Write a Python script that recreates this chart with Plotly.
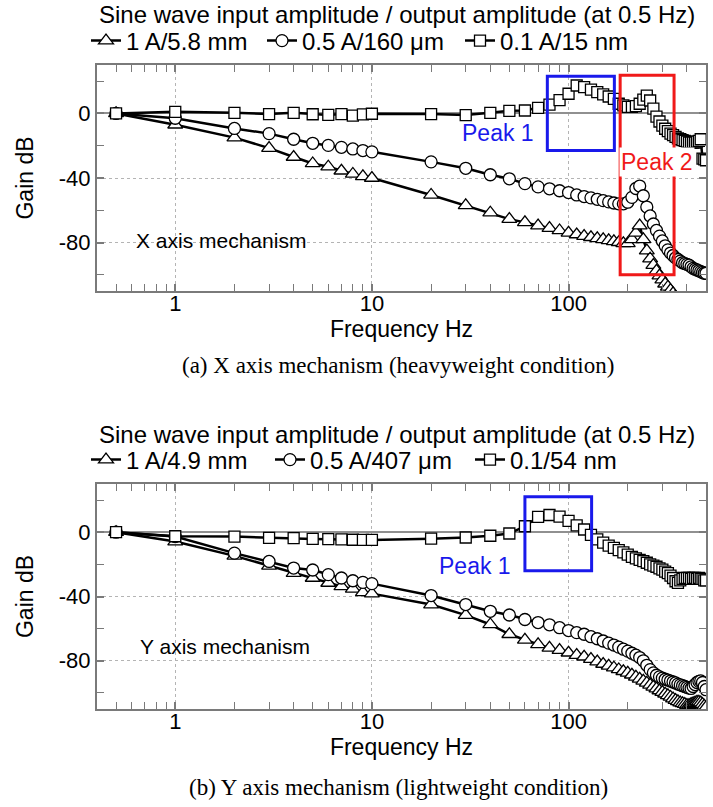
import math
import plotly.graph_objects as go

# ---------------- data ----------------
freq = [0.5, 1, 2, 3, 4, 5, 6, 7, 8, 9, 10,
        20, 30, 40, 50, 60, 70, 80, 90, 100,
        110, 120, 130, 140, 150, 160, 170, 180, 190, 200,
        210, 220, 230, 240, 250, 260, 270, 280, 290, 300,
        310, 320, 330, 340, 350, 360, 370, 380, 390, 400,
        410, 420, 430, 440, 450, 460, 470, 480, 490, 500]

# (a) X axis mechanism
x_gain_1A = [0, -7, -15, -21.5, -27, -31, -33, -35.5, -37.5, -39, -40,
             -50.5, -57, -61.5, -65.5, -67.5, -69.5, -71, -72.5, -74,
             -75, -76, -76.7, -77.4, -78, -78.6, -79.2, -79.8, -80.5, -80.5,
             -78, -74, -69.5, -78, -85, -90, -94, -97.5, -100.5, -103,
             -105.5, -107.5, -109.5, -111.5, -113.5, -115.5, -117.5, -119.5, -121.5, -123.5,
             -125.5, -127.5, -129.5, -131.5, -133, -134.5, -136, -137.5, -139, -140]
x_gain_05A = [0, -3, -9.3, -12.5, -16, -18.5, -19.8, -21, -22, -23, -23.8,
              -30, -34, -38, -40.5, -43.5, -45.5, -46.7, -47.9, -49,
              -50.5, -51.5, -52.3, -53.2, -54, -54.8, -55.5, -56, -56, -55,
              -52, -46.5, -45, -51, -58, -63.5, -68.5, -72.5, -76, -79,
              -82, -84.5, -86.5, -88, -89.5, -90.5, -91.5, -92.5, -93, -93.5,
              -94, -95, -96, -96.5, -97, -97.5, -98, -98.5, -99, -99]
x_gain_01A = [0, 1, 0.4, -0.4, 0.4, -0.5, -0.9, -0.4, -1.3, -0.6, -0.2,
              -0.4, -1, 0.4, 1.6, 1.8, 3.5, 5.5, 8.2, 12.2,
              17.3, 16.3, 14.8, 13.2, 11.8, 10.5, 9, 6, 5, 4,
              4, 4.5, 6, 8.5, 11, 8, 3, -2, -5, -7.5,
              -9.5, -11, -12.5, -13.5, -14.5, -15.5, -16, -16.5, -17, -17.5,
              -18, -18, -18, -18, -17.5, -17, -16, -28, -28.5, -29]

# (b) Y axis mechanism
y_gain_1A = [0, -5.8, -14.7, -20.9, -25.4, -28.5, -31.6, -33.7, -35.3, -37.4, -38.2,
             -45, -51.6, -57.4, -63.5, -67, -69.8, -72, -73.4, -75,
             -76.5, -77.5, -79, -80.5, -82, -83.2, -84.3, -85.4, -86.5, -87.5,
             -88.7, -90, -91.2, -92.5, -93.7, -95, -96.2, -97.3, -98.5, -99.5,
             -100.5, -101.5, -102.5, -103.5, -104.5, -105.2, -106, -106.5, -107, -107.5,
             -107.5, -107, -106.5, -106, -105.5, -105.5, -106, -107, -108, -109]
y_gain_05A = [0, -2.7, -13, -18.2, -22.3, -23.5, -26.4, -28.5, -30.2, -31.2, -32,
              -39.4, -45, -49.2, -51.5, -54.3, -56.2, -57.6, -59.4, -61.2,
              -62.5, -63.5, -65, -66.3, -67.7, -69, -70.2, -71.5, -72.8, -74,
              -75.3, -76.5, -78, -80, -82.8, -85.5, -87.5, -89, -90, -90.8,
              -91.5, -92, -92.6, -93.2, -93.8, -94.5, -95, -95.5, -96, -96.5,
              -97, -97.2, -96, -94.8, -93.5, -92.8, -92.5, -93.5, -96, -98]
y_gain_01A = [0, -2.5, -2.7, -3.5, -3.7, -4.2, -4.3, -4.5, -4.7, -4.8, -4.8,
              -4, -3.3, -2.2, -0.8, 3.7, 9.5, 10.7, 9.7, 7,
              4.2, 1.7, -1.7, -4.5, -6.5, -8.3, -9.8, -11.2, -12.6, -14,
              -15.3, -16.3, -17.2, -18, -19, -20, -20.8, -21.5, -22.5, -23.3,
              -24.5, -25.5, -27, -28.5, -30.5, -31.5, -30, -29, -28.5, -28.5,
              -28.5, -29, -28.5, -28.5, -29, -28.5, -29, -29, -30, -30]

legend_a = ["1 A/5.8 mm", "0.5 A/160 μm", "0.1 A/15 nm"]
legend_b = ["1 A/4.9 mm", "0.5 A/407 μm", "0.1/54 nm"]

x_tickvals = [1, 10, 100]
x_ticktext = ["1", "10", "100"]
x_minor = [0.5, 0.6, 0.7, 0.8, 0.9, 2, 3, 4, 5, 6, 7, 8, 9,
           20, 30, 40, 50, 60, 70, 80, 90, 200, 300, 400]
y_tickvals = [-80, -40, 0]
y_ticktext = ["-80", "-40", "0"]
y_minor = [-100, -60, -20, 20]
x_range = [0.4, 500]
y_range = [-110, 30]

# boxes (data coordinates)
box_a_peak1 = dict(f=[78, 171], g=[-23, 23])
box_a_peak2 = dict(f=[183, 344], g=[-100, 23.7])
box_b_peak1 = dict(f=[60, 131], g=[-24, 22])

# ---------------- figure ----------------
W, H = 713, 807
SANS = "Liberation Sans, Arial, sans-serif"
SERIF = "Liberation Serif, Times New Roman, serif"
BLUE = "rgb(25,25,235)"
RED = "rgb(240,25,25)"
GRAY = "#7a7a7a"

symbols = ["triangle-up", "circle", "square"]
sizes = [13, 12, 11]


def px_x(p):
    return p / W


def px_y(p):
    return 1 - p / H


fig = go.Figure()

series_a = [x_gain_1A, x_gain_05A, x_gain_01A]
series_b = [y_gain_1A, y_gain_05A, y_gain_01A]
legend_ids_a = ["legend", "legend2", "legend3"]
legend_ids_b = ["legend4", "legend5", "legend6"]

for i, (vals, name) in enumerate(zip(series_a, legend_a)):
    fig.add_trace(go.Scatter(
        x=freq, y=vals, name=name, mode="lines+markers", showlegend=True,
        line=dict(color="black", width=2.5),
        marker=dict(symbol=symbols[i], size=sizes[i],
                    color="white", line=dict(color="black", width=1.3)),
        xaxis="x", yaxis="y", legend=legend_ids_a[i]))

for i, (vals, name) in enumerate(zip(series_b, legend_b)):
    fig.add_trace(go.Scatter(
        x=freq, y=vals, name=name, mode="lines+markers", showlegend=True,
        line=dict(color="black", width=2.5),
        marker=dict(symbol=symbols[i], size=sizes[i],
                    color="white", line=dict(color="black", width=1.3)),
        xaxis="x2", yaxis="y2", legend=legend_ids_b[i]))

xdom = [px_x(97), px_x(706)]
ydom_a = [px_y(291), px_y(65)]
ydom_b = [px_y(709), px_y(484)]


def xaxis_cfg(dom, anchor):
    return dict(
        type="log", domain=dom, anchor=anchor, automargin=False,
        range=[math.log10(x_range[0]), math.log10(x_range[1])],
        tickmode="array", tickvals=x_tickvals, ticktext=x_ticktext,
        ticks="inside", ticklen=7, tickwidth=1.5, tickcolor=GRAY,
        showline=True, linecolor=GRAY, linewidth=2, mirror="allticks",
        showgrid=True, gridcolor="#b4b4b4", griddash="dot", gridwidth=1,
        zeroline=False, ticklabelstandoff=-8,
        minor=dict(tickmode="array", tickvals=x_minor, ticks="inside",
                   ticklen=7, tickwidth=1.2, tickcolor=GRAY, showgrid=False),
        tickfont=dict(family=SANS, size=22, color="black"),
        title=dict(text="Frequency Hz", font=dict(family=SANS, size=23, color="black"),
                   standoff=0),
    )


def yaxis_cfg(dom, anchor):
    return dict(
        domain=dom, anchor=anchor, range=y_range, automargin=False,
        tickmode="array", tickvals=y_tickvals, ticktext=y_ticktext,
        ticks="inside", ticklen=7, tickwidth=1.5, tickcolor=GRAY,
        showline=True, linecolor=GRAY, linewidth=2, mirror="allticks",
        showgrid=True, gridcolor="#b4b4b4", griddash="dot", gridwidth=1,
        zeroline=True, zerolinecolor="#909090", zerolinewidth=2,
        minor=dict(tickmode="array", tickvals=y_minor, ticks="inside",
                   ticklen=7, tickwidth=1.2, tickcolor=GRAY, showgrid=False),
        tickfont=dict(family=SANS, size=22, color="black"),
        title=dict(text="Gain dB", font=dict(family=SANS, size=23, color="black"),
                   standoff=19),
    )


def box(ref_x, ref_y, b, color):
    return dict(type="rect", xref=ref_x, yref=ref_y,
                x0=b["f"][0], x1=b["f"][1], y0=b["g"][0], y1=b["g"][1],
                line=dict(color=color, width=3), fillcolor="rgba(0,0,0,0)", layer="above")


def legend_box(xpx, ypx):
    return dict(orientation="h", xanchor="left", yanchor="middle",
                x=px_x(xpx), y=px_y(ypx), visible=True,
                font=dict(family=SANS, size=24, color="black"),
                bgcolor="rgba(0,0,0,0)", itemclick=False, itemdoubleclick=False)


legend_x_a = [86, 262, 460]
legend_x_b = [86, 270, 470]

layout_legends = {}
for lid, xp in zip(legend_ids_a, legend_x_a):
    layout_legends[lid] = legend_box(xp, 41)
for lid, xp in zip(legend_ids_b, legend_x_b):
    layout_legends[lid] = legend_box(xp, 460)

fig.update_layout(
    width=W, height=H,
    showlegend=True,
    margin=dict(l=0, r=0, t=0, b=0),
    paper_bgcolor="white", plot_bgcolor="white",
    font=dict(family=SANS, color="black"),
    xaxis=xaxis_cfg(xdom, "y"),
    yaxis=yaxis_cfg(ydom_a, "x"),
    xaxis2=xaxis_cfg(xdom, "y2"),
    yaxis2=yaxis_cfg(ydom_b, "x2"),
    shapes=[box("x", "y", box_a_peak1, BLUE),
            box("x", "y", box_a_peak2, RED),
            box("x2", "y2", box_b_peak1, BLUE)],
    annotations=[
        dict(text="Sine wave input amplitude / output amplitude (at 0.5 Hz)",
             xref="paper", yref="paper", x=px_x(397), y=px_y(15),
             xanchor="center", yanchor="middle", showarrow=False,
             font=dict(family=SANS, size=24, color="black")),
        dict(text="Sine wave input amplitude / output amplitude (at 0.5 Hz)",
             xref="paper", yref="paper", x=px_x(397), y=px_y(434),
             xanchor="center", yanchor="middle", showarrow=False,
             font=dict(family=SANS, size=24, color="black")),
        dict(text="(a) X axis mechanism (heavyweight condition)",
             xref="paper", yref="paper", x=px_x(398), y=px_y(365),
             xanchor="center", yanchor="middle", showarrow=False,
             font=dict(family=SERIF, size=23, color="black")),
        dict(text="(b) Y axis mechanism (lightweight condition)",
             xref="paper", yref="paper", x=px_x(398), y=px_y(787),
             xanchor="center", yanchor="middle", showarrow=False,
             font=dict(family=SERIF, size=23, color="black")),
        dict(text="X axis mechanism", xref="x", yref="y",
             x=math.log10(0.62), y=-79, xanchor="left", yanchor="middle",
             showarrow=False, font=dict(family=SANS, size=21, color="black")),
        dict(text="Y axis mechanism", xref="x2", yref="y2",
             x=math.log10(0.65), y=-71, xanchor="left", yanchor="middle",
             showarrow=False, font=dict(family=SANS, size=21, color="black")),
        dict(text="Peak 1", xref="x", yref="y",
             x=math.log10(43.6), y=-12, xanchor="center", yanchor="middle",
             showarrow=False, font=dict(family=SANS, size=23, color=BLUE)),
        dict(text="Peak 2", xref="x", yref="y",
             x=math.log10(281), y=-30, xanchor="center", yanchor="middle",
             showarrow=False, bgcolor="white", borderpad=1,
             font=dict(family=SANS, size=23, color=RED)),
        dict(text="Peak 1", xref="x2", yref="y2",
             x=math.log10(33.4), y=-21, xanchor="center", yanchor="middle",
             showarrow=False, font=dict(family=SANS, size=23, color=BLUE)),
    ],
    **layout_legends,
)

fig.write_html("out.html", config={"displayModeBar": False},
               post_script="document.body.style.margin='0px';")
